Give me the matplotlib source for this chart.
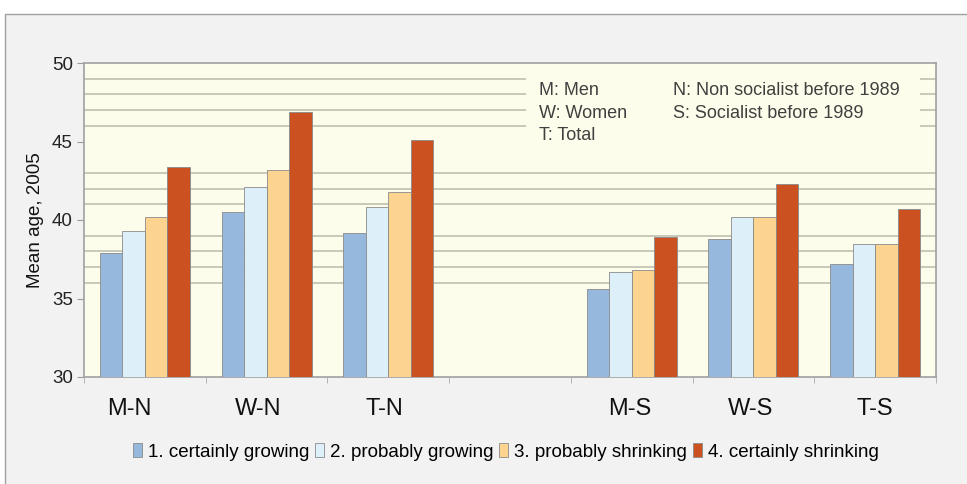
import matplotlib.pyplot as plt
from matplotlib.patches import Rectangle
import numpy as np

plt.rcParams['font.family'] = ['Liberation Sans', 'DejaVu Sans']

categories = ['M-N', 'W-N', 'T-N', '', 'M-S', 'W-S', 'T-S']
series = ['1. certainly growing', '2. probably growing',
          '3. probably shrinking', '4. certainly shrinking']
certainly_growing = [37.9, 40.5, 39.2, np.nan, 35.6, 38.8, 37.2]
probably_growing = [39.3, 42.1, 40.8, np.nan, 36.7, 40.2, 38.5]
probably_shrinking = [40.2, 43.2, 41.8, np.nan, 36.8, 40.2, 38.5]
certainly_shrinking = [43.4, 46.9, 45.1, np.nan, 38.9, 42.3, 40.7]
values = [certainly_growing, probably_growing, probably_shrinking, certainly_shrinking]
colors = ['#95b8dc', '#ddeff9', '#fcd490', '#cb5120']
grid_levels = [35, 36, 37, 38, 39, 40, 41, 42, 43, 46, 47, 48, 49]
label_shift = [-0.13, -0.07, -0.03, 0, -0.02, -0.02, 0]

fig = plt.figure(figsize=(9.67, 4.84), dpi=100, facecolor='white')
fig.patches.append(Rectangle((5 / 967, -0.01), 1.0, 1 - 14 / 484 + 0.01,
                             transform=fig.transFigure, facecolor='#f2f2f2',
                             edgecolor='#a0a0a0', linewidth=1, zorder=-10))

ax = fig.add_axes([84 / 967, 107 / 484, 852 / 967, 314 / 484])
ax.set_facecolor('#fdfdeb')

x = np.arange(len(categories))
w = 0.185
for i, (vals, c, name) in enumerate(zip(values, colors, series)):
    ax.bar(x + (i - 1.5) * w, vals, width=w, color=c, edgecolor='#8a8a8a',
           linewidth=0.6, label=name, zorder=3)

ax.set_ylim(30, 50)
ax.set_xlim(-0.5, len(categories) - 0.5)
ax.set_yticks([30, 35, 40, 45, 50])
ax.set_yticks(grid_levels, minor=True)
ax.grid(False)
ax.grid(True, which='minor', axis='y', color='#c5c5b5', linewidth=1.3, zorder=1)
ax.tick_params(axis='y', which='minor', length=0)
ax.tick_params(axis='y', which='major', length=5, color='#999999',
               labelsize=13.5, labelcolor='#222222', pad=3)

ax.set_xticks(x + np.array(label_shift))
ax.set_xticklabels(categories, fontsize=17, color='#111111')
ax.tick_params(axis='x', which='major', length=0, pad=15)
ax.set_xticks(np.arange(len(categories) + 1) - 0.5, minor=True)
ax.tick_params(axis='x', which='minor', length=4, color='#aaaaaa')

ax.set_ylabel('Mean age, 2005', fontsize=13.5, color='#111111', labelpad=6)

for s in ax.spines.values():
    s.set_color('#a0a0a0')
    s.set_linewidth(1.2)

# note box hiding the grid behind the key text
ax.add_patch(Rectangle((0.519, 0.79), 0.462, 0.195, transform=ax.transAxes,
                       facecolor='#fdfdeb', edgecolor='none', zorder=2))
note_left = ['M: Men', 'W: Women', 'T: Total']
note_right = ['N: Non socialist before 1989', 'S: Socialist before 1989']
for k, t in enumerate(note_left):
    ax.text(0.534, 0.912 - k * 0.072, t, transform=ax.transAxes, fontsize=13,
            color='#404040', va='center', zorder=4)
for k, t in enumerate(note_right):
    ax.text(0.691, 0.912 - k * 0.072, t, transform=ax.transAxes, fontsize=13,
            color='#404040', va='center', zorder=4)

leg = fig.legend(loc='center', bbox_to_anchor=(0.523, 0.066), ncol=4,
                 frameon=False, fontsize=13.5, handlelength=0.5, handleheight=0.7,
                 handletextpad=0.3, columnspacing=0.3)

fig.savefig('out.png', dpi=100, facecolor=fig.get_facecolor())
